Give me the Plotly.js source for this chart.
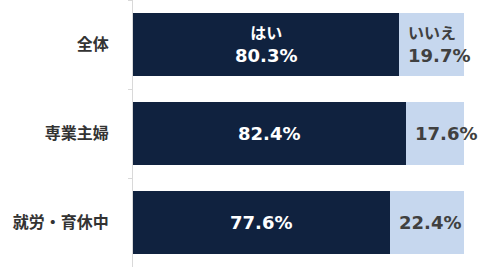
<!DOCTYPE html>
<html>
<head>
<meta charset="utf-8">
<script src="https://cdn.plot.ly/plotly-3.0.1.min.js"></script>
<style>html,body{margin:0;padding:0;background:#fff;}#chart{width:499px;height:271px;}</style>
</head>
<body>
<div id="chart"></div>
<script>
var categories = ['全体', '専業主婦', '就労・育休中'];
var yesValues = [80.3, 82.4, 77.6];
var noValues = [19.7, 17.6, 22.4];
var yesLabel = 'はい';
var noLabel = 'いいえ';

var FONT = 'DejaVu Sans, "Noto Sans CJK JP", sans-serif';
var dark = '#10223f';
var light = '#c6d7ee';

var traces = [
  {type: 'bar', orientation: 'h', y: categories, x: yesValues, name: yesLabel,
   marker: {color: dark}, hoverinfo: 'none'},
  {type: 'bar', orientation: 'h', y: categories, x: noValues, name: noLabel,
   marker: {color: light}, hoverinfo: 'none'}
];

var annotations = [];
categories.forEach(function(c, i) {
  var yesTxt = yesValues[i].toFixed(1) + '%';
  var noTxt = noValues[i].toFixed(1) + '%';
  if (i === 0) {
    yesTxt = '<span style="font-size:16px">' + yesLabel + '</span><br>' + yesTxt;
    noTxt = '<span style="font-size:16px">' + noLabel + '</span><br>' + noTxt;
  }
  annotations.push({x: yesValues[i] / 2, y: c, xref: 'x', yref: 'y', text: yesTxt,
    showarrow: false, xanchor: 'center', yanchor: 'middle', align: 'center',
    font: {family: FONT, size: 18, color: '#ffffff', weight: 'bold'}});
  annotations.push({x: yesValues[i], y: c, xref: 'x', yref: 'y', text: noTxt,
    showarrow: false, xanchor: 'left', yanchor: 'middle', align: 'left', xshift: 7,
    font: {family: FONT, size: 18, color: '#404040', weight: 'bold'}});
});

var layout = {
  width: 499, height: 271,
  margin: {l: 133, r: 35, t: 0, b: 4, pad: 0},
  paper_bgcolor: '#ffffff', plot_bgcolor: '#ffffff',
  barmode: 'stack', bargap: 0.29, showlegend: false,
  xaxis: {range: [0, 100], visible: false, fixedrange: true},
  yaxis: {type: 'category', autorange: 'reversed', tickson: 'boundaries',
    ticks: 'outside', ticklen: 4, tickcolor: '#d9d9d9', showline: true,
    linecolor: '#d9d9d9', linewidth: 1, showgrid: false, zeroline: false,
    ticklabelstandoff: 20,
    tickfont: {family: '"Noto Sans CJK JP", sans-serif', size: 16, color: '#333333', weight: 'bold'}},
  annotations: annotations
};

Plotly.newPlot('chart', traces, layout, {displayModeBar: false, staticPlot: true});
</script>
</body>
</html>
